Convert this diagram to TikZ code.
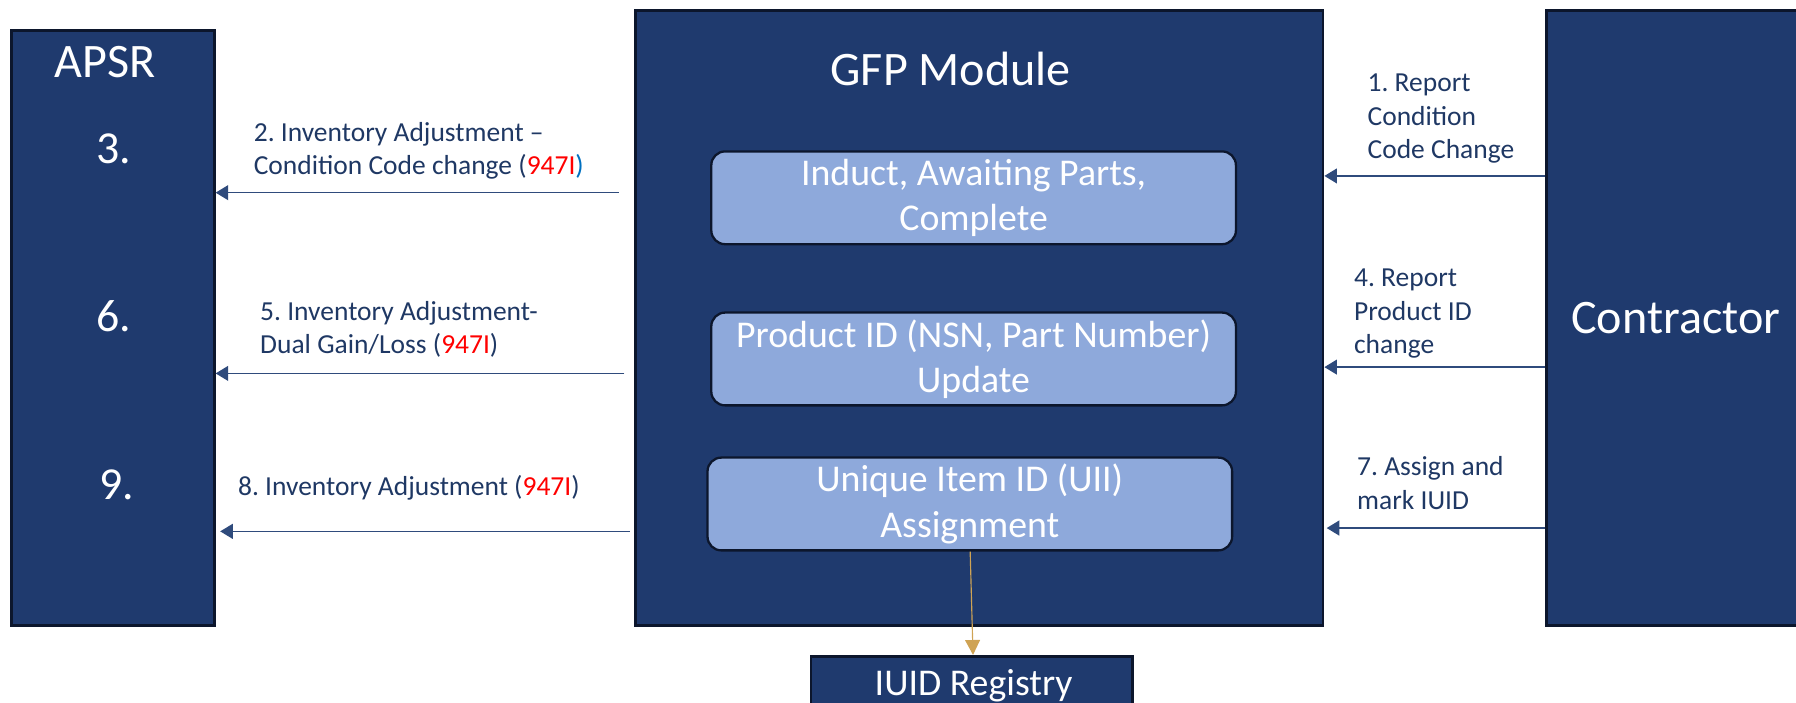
\documentclass[tikz,border=0pt]{standalone}
\usepackage{fontspec}
\setmainfont{Carlito}
\usetikzlibrary{arrows.meta}
\frenchspacing
\definecolor{navy}{RGB}{31,58,110}
\definecolor{edgec}{RGB}{12,22,44}
\definecolor{lblue}{RGB}{142,169,219}
\definecolor{txt}{RGB}{31,56,100}
\definecolor{arr}{RGB}{47,75,124}
\definecolor{gold}{RGB}{207,163,84}
\definecolor{pblue}{RGB}{0,112,192}
\definecolor{redc}{RGB}{255,0,0}
\tikzset{
  bigbox/.style={draw=edgec, line width=2.5pt, fill=navy, inner sep=0pt},
  subbox/.style={draw=edgec, line width=2pt, fill=lblue, rounded corners=12pt, inner sep=0pt,
     text=white, align=center, font=\fontsize{33}{39.5}\selectfont},
  bigtxt/.style={text=white, anchor=base, inner sep=0pt, font=\fontsize{42}{48}\selectfont},
  numtxt/.style={bigtxt, font=\fontsize{40}{46}\selectfont},
  lbl/.style={text=txt, anchor=base west, inner sep=0pt, font=\fontsize{24}{28}\selectfont},
  flow/.style={draw=arr, line width=1.3pt, -{Triangle[length=11pt,width=13pt]}},
  goldflow/.style={draw=gold, line width=1pt, -{Triangle[length=13pt,width=13pt]}}
}
\newcommand{\code}{\textcolor{redc}{947I}}
\begin{document}
\begin{tikzpicture}[x=1pt,y=-1pt]
\useasboundingbox (0,0) rectangle (1568,613);
% big boxes
\node[bigbox, minimum width=177pt, minimum height=519pt] (apsr) at (98.5,286.5) {};
\node[bigbox, minimum width=600pt, minimum height=537pt] (gfp) at (855,277.5) {};
\node[bigbox, minimum width=260pt, minimum height=537pt] (con) at (1480,277.5) {};
\node[bigbox, minimum width=281pt, minimum height=80pt] (iuid) at (848.5,613) {};
% big texts
\node[bigtxt] (apsrt) at (91.6,67.5) {APSR};
\node[numtxt] (n3) at (99.4,142.6) {3.};
\node[numtxt] (n6) at (99.4,289.6) {6.};
\node[numtxt] (n9) at (102,436.5) {9.};
\node[bigtxt] (gfpt) at (830,75) {GFP Module};
\node[bigtxt] (cont) at (1463,291) {Contractor};
\node[bigtxt, font=\fontsize{33}{38}\selectfont] (iuidt) at (850,607) {IUID Registry};
% inner boxes
\node[subbox, minimum width=458pt, minimum height=81pt] (ind) at (850,172.7) {Induct, Awaiting Parts,\\Complete};
\node[subbox, minimum width=458pt, minimum height=81pt] (prod) at (850,313.4) {Product ID (NSN, Part Number)\\Update};
\node[subbox, minimum width=458pt, minimum height=81pt] (uii) at (846.7,440) {Unique Item ID (UII)\\Assignment};
% left labels
\node[lbl] (l2a) at (221.4,123.7) {2. Inventory Adjustment –};
\node[lbl] (l2b) at (221.4,152.2) {Condition Code change (\code\textcolor{pblue}{)}};
\node[lbl] (l5a) at (227,280) {5. Inventory Adjustment-};
\node[lbl] (l5b) at (227,309) {Dual Gain/Loss (\code)};
\node[lbl] (l8) at (207.7,432.7) {8. Inventory Adjustment (\code)};
% right labels
\node[lbl] (r1a) at (1193.8,80) {1. Report};
\node[lbl] (r1b) at (1193.8,109.4) {Condition};
\node[lbl] (r1c) at (1193.8,138) {Code Change};
\node[lbl] (r4a) at (1182,250) {4. Report};
\node[lbl] (r4b) at (1182,279.4) {Product ID};
\node[lbl] (r4c) at (1182,308.7) {change};
\node[lbl] (r7a) at (1184.7,415.4) {7. Assign and};
\node[lbl] (r7b) at (1184.7,444.7) {mark IUID};
% connector start points
\coordinate (s2) at (540,168.2);
\coordinate (s5) at (545,326);
\coordinate (s8) at (549.6,463.9);
\coordinate (t1) at (1155,153.6);
\coordinate (t4) at (1155,320.5);
\coordinate (t7) at (1157,461);
% arrows
\draw[flow] (s2) -- (apsr.east |- s2);
\draw[flow] (s5) -- (apsr.east |- s5);
\draw[flow, shorten >=4pt] (s8) -- (apsr.east |- s8);
\draw[flow] (con.west |- t1) -- (gfp.east |- t1);
\draw[flow] (con.west |- t4) -- (gfp.east |- t4);
\draw[flow, shorten >=2pt] (con.west |- t7) -- (gfp.east |- t7);
\draw[goldflow] ([xshift=0.3pt]uii.south) -- ([xshift=1pt]iuid.north);
\end{tikzpicture}
\end{document}
